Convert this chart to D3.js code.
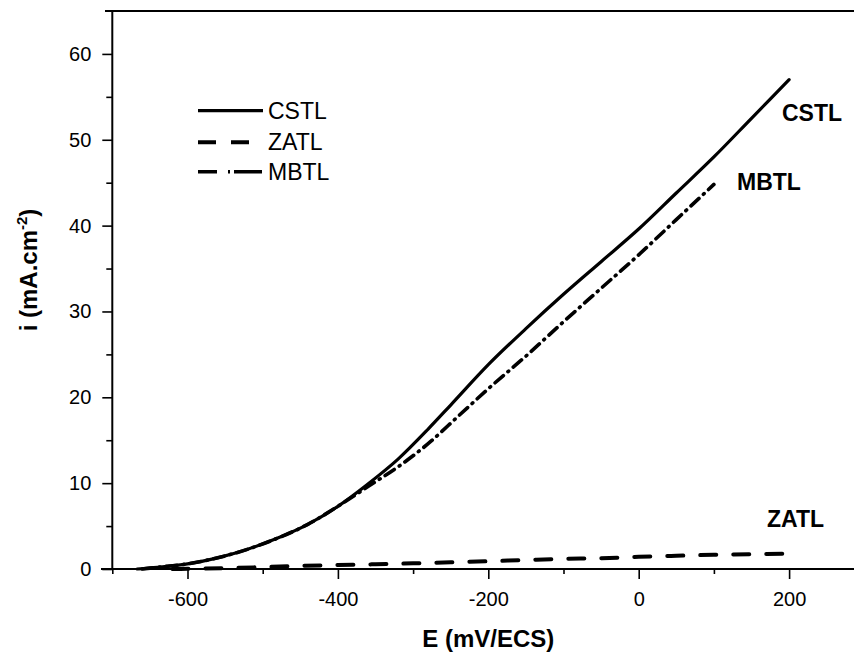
<!DOCTYPE html>
<html><head><meta charset="utf-8">
<script src="https://cdn.jsdelivr.net/npm/d3@7"></script>
<style>body{margin:0;background:#fff}svg{display:block}text{font-family:Arial,"Liberation Sans",sans-serif}</style>
</head><body>
<svg id="c" width="854" height="652"></svg>
<script>
// ---- data ----
const cstlE = [-667,-640,-600,-560,-520,-480,-440,-400,-360,-320,-280,-250,-200,-150,-100,-50,0,50,100,150,200];
const cstlI = [0,0.2,0.6,1.3,2.3,3.6,5.2,7.3,9.9,12.8,16.3,19.1,23.8,28.0,32.0,35.8,39.6,43.8,48.0,52.5,57.0];
const mbtlE = [-660,-640,-600,-560,-520,-480,-440,-400,-360,-320,-280,-240,-200,-150,-100,-50,0,50,100];
const mbtlI = [0,0.2,0.6,1.3,2.3,3.6,5.2,7.3,9.6,11.9,14.6,17.8,21.0,24.8,28.8,32.7,36.6,40.7,44.8];
const zatlE = [-620,-600,-550,-500,-450,-400,-350,-300,-250,-200,-150,-100,-50,0,50,100,150,200];
const zatlI = [0,0.02,0.1,0.22,0.36,0.46,0.55,0.66,0.78,0.9,1.05,1.18,1.25,1.42,1.54,1.66,1.72,1.78];
const xMajorTicks = [-600,-400,-200,0,200];
const xMinorTicks = [-700,-500,-300,-100,100,300];
const yMajorTicks = [0,10,20,30,40,50,60];
const yMinorTicks = [5,15,25,35,45,55];
const seriesNames = ["CSTL","ZATL","MBTL"];

const svg = d3.select("#c");
const x = d3.scaleLinear().domain([-700,300]).range([112.3,864.3]);
const y = d3.scaleLinear().domain([0,65]).range([569,11]);

const styles = {
  CSTL:{dash:null, w:3.2, leg:null, legEnd:263},
  ZATL:{dash:"16,17", w:4, leg:"18,15", legEnd:249},
  MBTL:{dash:"11,6,1,6", w:3.6, leg:"19,11,2,4,28", legEnd:262}
};

// frame
svg.append("line").attr("x1",105).attr("x2",x(300)).attr("y1",y(65)).attr("y2",y(65)).attr("stroke","#000").attr("stroke-width",2);
svg.append("line").attr("x1",x(300)).attr("x2",x(300)).attr("y1",y(65)).attr("y2",y(0)).attr("stroke","#000").attr("stroke-width",2);

// x axis
const gx = svg.append("g").attr("transform",`translate(0,${y(0)})`);
gx.call(d3.axisBottom(x).tickValues(xMajorTicks).tickSize(10).tickPadding(13).tickFormat(d=>String(d)));
gx.append("g").call(d3.axisBottom(x).tickValues(xMinorTicks).tickSize(5).tickFormat(""));
gx.selectAll(".domain").remove();
gx.append("line").attr("x1",101).attr("x2",x(300)).attr("stroke","#000").attr("stroke-width",2);

// y axis
const gy = svg.append("g").attr("transform",`translate(${x(-700)},0)`);
gy.call(d3.axisLeft(y).tickValues(yMajorTicks).tickSize(10).tickPadding(11).tickFormat(d=>String(d)));
gy.append("g").call(d3.axisLeft(y).tickValues(yMinorTicks).tickSize(6).tickFormat(""));
gy.selectAll(".domain").remove();
gy.append("line").attr("y1",y(65)).attr("y2",y(0)).attr("stroke","#000").attr("stroke-width",2);

svg.selectAll(".tick line").attr("stroke","#000").attr("stroke-width",1.6);
svg.selectAll(".tick text").attr("font-size",20).attr("fill","#000").style("font-family","Arial, 'Liberation Sans', sans-serif");

// axis titles
svg.append("text").attr("x",(x(-700)+x(300))/2).attr("y",647).attr("text-anchor","middle")
  .attr("font-size",24).attr("font-weight","bold").text("E (mV/ECS)");
const yt = svg.append("text").attr("transform","translate(37,270) rotate(-90)").attr("text-anchor","middle")
  .attr("font-size",24).attr("font-weight","bold");
yt.append("tspan").text("i (mA.cm");
yt.append("tspan").attr("font-size",15).attr("dy",-10).text("-2");
yt.append("tspan").attr("dy",10).text(")");

// lines
const line = d3.line().x(d=>x(d[0])).y(d=>y(d[1])).curve(d3.curveMonotoneX);
const dataSets = {
  CSTL: d3.zip(cstlE,cstlI),
  ZATL: d3.zip(zatlE,zatlI),
  MBTL: d3.zip(mbtlE,mbtlI)
};
["MBTL","ZATL","CSTL"].forEach(n=>{
  svg.append("path").datum(dataSets[n]).attr("d",line).attr("fill","none").attr("stroke","#000")
    .attr("stroke-width",styles[n].w).attr("stroke-dasharray",styles[n].dash)
    .attr("stroke-linecap","round").attr("stroke-linejoin","round");
});

// legend
const legY = [110.7,142.3,171.7];
seriesNames.forEach((n,i)=>{
  svg.append("line").attr("x1",198).attr("x2",styles[n].legEnd).attr("y1",legY[i]).attr("y2",legY[i])
    .attr("stroke","#000").attr("stroke-width",styles[n].w)
    .attr("stroke-dasharray", styles[n].leg);
  svg.append("text").attr("x",268).attr("y",legY[i]+8).attr("font-size",23).text(n);
});

// curve labels
svg.append("text").attr("x",782).attr("y",121).attr("font-size",23).attr("font-weight","bold").text("CSTL");
svg.append("text").attr("x",737).attr("y",190).attr("font-size",23).attr("font-weight","bold").text("MBTL");
svg.append("text").attr("x",767).attr("y",527).attr("font-size",23).attr("font-weight","bold").text("ZATL");
</script>
</body></html>
